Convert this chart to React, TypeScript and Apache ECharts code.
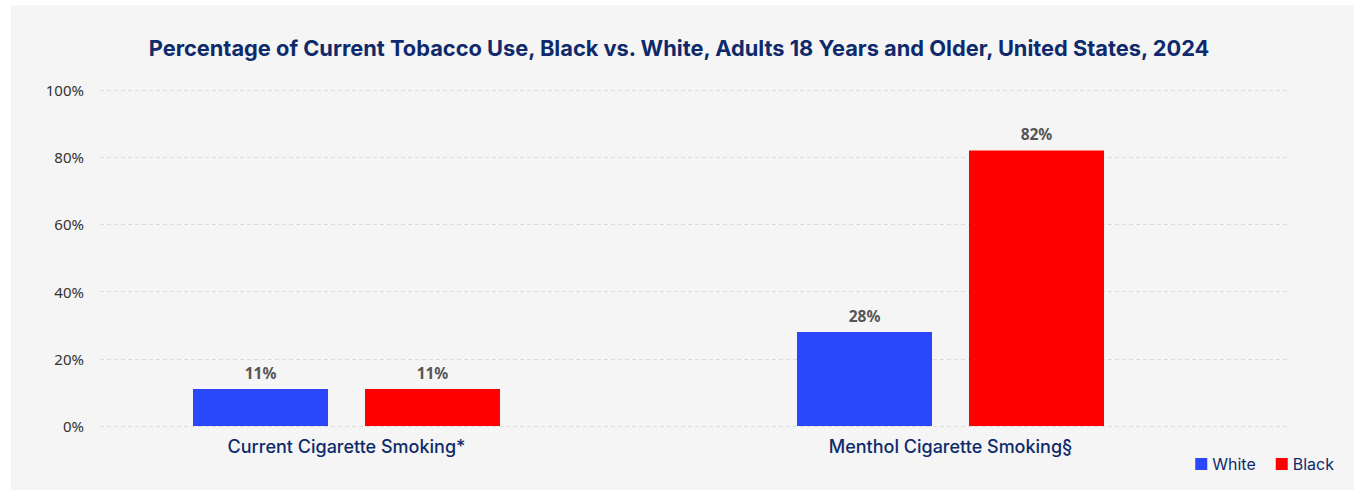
import React, { useEffect, useRef } from "react";
import * as echarts from "echarts";

const categories = ["Current Cigarette Smoking*", "Menthol Cigarette Smoking§"];
const whiteValues = [11, 28];
const blackValues = [11, 82];
const yTicks = [0, 20, 40, 60, 80, 100];
const titleText = "Percentage of Current Tobacco Use, Black vs. White, Adults 18 Years and Older, United States, 2024";

const NAVY = "#0f2a6c";
const BLUE = "#2a47fa";
const RED = "#ff0000";

export default function App() {
  const ref = useRef<HTMLDivElement>(null);
  useEffect(() => {
    document.body.style.margin = "0";
    const chart = echarts.init(ref.current!, null, { renderer: "svg" });
    const labelStyle = {
      show: true,
      position: "top" as const,
      distance: 8,
      formatter: (p: any) => p.value + "%",
      color: "#555",
      fontFamily: "Noto Sans",
      fontWeight: "bold" as const,
      fontSize: 15.5,
    };
    chart.setOption({
      animation: false,
      backgroundColor: "#ffffff",
      graphic: [
        {
          type: "rect",
          shape: { x: 11, y: 5, width: 1343, height: 485 },
          style: { fill: "#f5f5f5" },
          z: -10,
          silent: true,
        },
      ],
      title: {
        text: titleText,
        left: "center",
        top: 32,
        textStyle: { color: NAVY, fontFamily: "Inter", fontWeight: 700, fontSize: 21.8 },
      },
      legend: {
        right: 19,
        top: 451,
        icon: "rect",
        itemWidth: 12,
        itemHeight: 12,
        itemGap: 20,
        textStyle: { color: NAVY, fontFamily: "Inter", fontSize: 16 },
        data: ["White", "Black"],
      },
      grid: [
        { left: 100, right: 67, top: 90, bottom: 67 },
        { left: 44.5, right: 105.5, top: 90, bottom: 67 },
      ],
      xAxis: [
        {
          gridIndex: 0,
          type: "category",
          data: categories,
          show: false,
        },
        {
          gridIndex: 1,
          type: "category",
          data: categories,
          axisLine: { show: false },
          axisTick: { show: false },
          axisLabel: { margin: 11, color: NAVY, fontFamily: "Inter", fontSize: 18, fontWeight: 500 },
        },
      ],
      yAxis: [
        {
          gridIndex: 0,
          type: "value",
          min: yTicks[0],
          max: yTicks[yTicks.length - 1],
          interval: 20,
          axisLine: { show: false },
          axisTick: { show: false },
          axisLabel: { margin: 16, formatter: "{value}%", color: "#333", fontFamily: "Noto Sans", fontSize: 15 },
          splitLine: { lineStyle: { type: [4, 3], color: "#dcdcdc", width: 1 } },
        },
        {
          gridIndex: 1,
          type: "value",
          min: yTicks[0],
          max: yTicks[yTicks.length - 1],
          interval: 20,
          show: false,
          splitLine: { show: false },
        },
      ],
      series: [
        {
          name: "White",
          type: "bar",
          xAxisIndex: 1,
          yAxisIndex: 1,
          data: whiteValues,
          barWidth: 135,
          barGap: "27.4%",
          itemStyle: { color: BLUE },
          label: labelStyle,
        },
        {
          name: "Black",
          type: "bar",
          xAxisIndex: 1,
          yAxisIndex: 1,
          data: blackValues,
          barWidth: 135,
          barGap: "27.4%",
          itemStyle: { color: RED },
          label: labelStyle,
        },
      ],
    });
    return () => chart.dispose();
  }, []);
  return <div ref={ref} style={{ width: 1358, height: 493 }} />;
}
